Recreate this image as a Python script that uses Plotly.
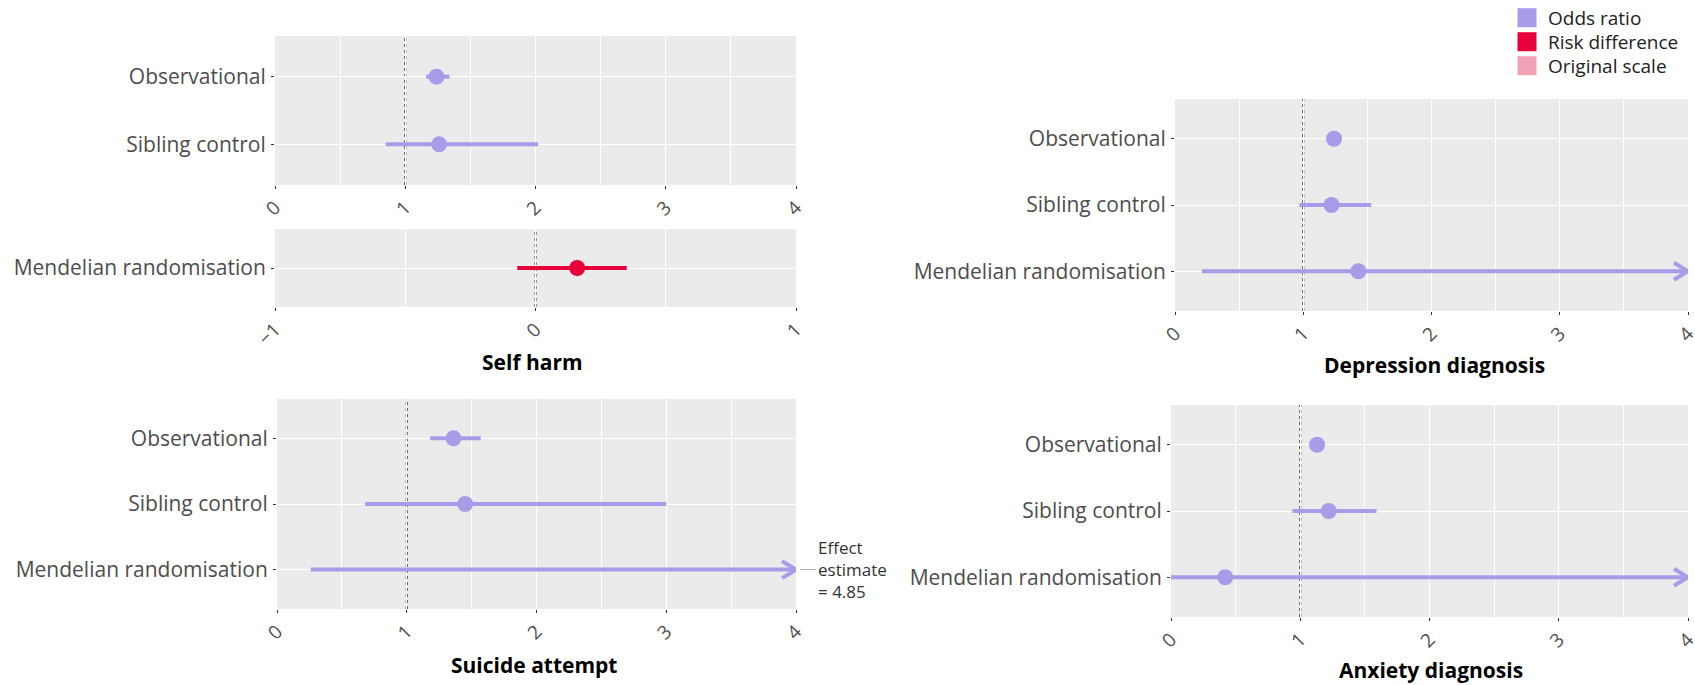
import plotly.graph_objects as go

# ---------------------------------------------------------------- data
methods = ["Observational", "Sibling control", "Mendelian randomisation"]
OFF_SCALE = float("inf")  # interval bound beyond the plotted range

# Self harm, odds ratios (observational + sibling control)
self_harm_or_methods = ["Observational", "Sibling control"]
self_harm_or_est = [1.24, 1.26]
self_harm_or_lo = [1.16, 0.85]
self_harm_or_hi = [1.34, 2.02]

# Self harm, risk difference (Mendelian randomisation)
self_harm_rd_methods = ["Mendelian randomisation"]
self_harm_rd_est = [0.16]
self_harm_rd_lo = [-0.07]
self_harm_rd_hi = [0.35]

# Suicide attempt, odds ratios
suicide_est = [1.36, 1.45, 4.85]
suicide_lo = [1.18, 0.68, 0.26]
suicide_hi = [1.57, 3.00, OFF_SCALE]

# Depression diagnosis, odds ratios
depression_est = [1.24, 1.22, 1.43]
depression_lo = [1.21, 0.97, 0.21]
depression_hi = [1.27, 1.53, OFF_SCALE]

# Anxiety diagnosis, odds ratios
anxiety_est = [1.13, 1.22, 0.42]
anxiety_lo = [1.10, 0.94, 0.00]
anxiety_hi = [1.16, 1.59, OFF_SCALE]

or_ticks = [0, 1, 2, 3, 4]
rd_ticks = [-1, 0, 1]

legend_labels = ["Odds ratio", "Risk difference", "Original scale"]

# ---------------------------------------------------------------- style
W, H = 1695, 685
C_OR = "#A89BE8"
C_RD = "#E8003A"
C_ORIG = "#F4A0B5"
legend_colors = [C_OR, C_RD, C_ORIG]
PANEL_BG = "#EBEBEB"
TEXT_GREY = "#4D4D4D"
FONT = "Open Sans"


def xd(left, right):
    return [left / W, right / W]


def yd(top, bottom):
    return [1 - bottom / H, 1 - top / H]


panels = [
    dict(key="", methods=self_harm_or_methods, est=self_harm_or_est,
         lo=self_harm_or_lo, hi=self_harm_or_hi, color=C_OR,
         xr=[0, 4], ticks=or_ticks, ref=1, xdom=xd(275, 796), ydom=yd(36, 185)),
    dict(key="2", methods=self_harm_rd_methods, est=self_harm_rd_est,
         lo=self_harm_rd_lo, hi=self_harm_rd_hi, color=C_RD,
         xr=[-1, 1], ticks=rd_ticks, ref=0, xdom=xd(275, 796), ydom=yd(229, 307)),
    dict(key="3", methods=methods, est=suicide_est, lo=suicide_lo, hi=suicide_hi,
         color=C_OR, xr=[0, 4], ticks=or_ticks, ref=1,
         xdom=xd(277, 796), ydom=yd(399, 609)),
    dict(key="4", methods=methods, est=depression_est, lo=depression_lo,
         hi=depression_hi, color=C_OR, xr=[0, 4], ticks=or_ticks, ref=1,
         xdom=xd(1175, 1688), ydom=yd(99, 311)),
    dict(key="5", methods=methods, est=anxiety_est, lo=anxiety_lo, hi=anxiety_hi,
         color=C_OR, xr=[0, 4], ticks=or_ticks, ref=1,
         xdom=xd(1171, 1688), ydom=yd(405, 617)),
]

fig = go.Figure()
layout_axes = {}
shapes = []

for p in panels:
    xa, ya = "x" + p["key"], "y" + p["key"]
    xmin, xmax = p["xr"]
    n = len(p["methods"])
    rows = list(range(n))
    span = xmax - xmin
    x_px = (p["xdom"][1] - p["xdom"][0]) * W
    y_px = (p["ydom"][1] - p["ydom"][0]) * H
    unit_px = y_px / (n + 0.2)  # pixels per category step

    # confidence interval segments, clipped to the axis range
    seg_x, seg_y = [], []
    arr_x, arr_y = [], []
    for r, lo, hi in zip(rows, p["lo"], p["hi"]):
        seg_x += [max(lo, xmin), min(hi, xmax), None]
        seg_y += [r, r, None]
        if hi > xmax:
            dx = 14 / x_px * span
            dy = 8.5 / unit_px
            arr_x += [xmax - dx, xmax, xmax - dx, None]
            arr_y += [r - dy, r, r + dy, None]
    fig.add_trace(go.Scatter(x=seg_x, y=seg_y, mode="lines", xaxis=xa, yaxis=ya,
                             line=dict(color=p["color"], width=4),
                             showlegend=False, hoverinfo="skip"))
    if arr_x:
        fig.add_trace(go.Scatter(x=arr_x, y=arr_y, mode="lines", xaxis=xa, yaxis=ya,
                                 line=dict(color=p["color"], width=4),
                                 cliponaxis=False, showlegend=False, hoverinfo="skip"))

    # point estimates that fall inside the plotted range
    px_, py_ = [], []
    for r, e in zip(rows, p["est"]):
        if xmin <= e <= xmax:
            px_.append(e)
            py_.append(r)
    fig.add_trace(go.Scatter(x=px_, y=py_, mode="markers", xaxis=xa, yaxis=ya,
                             marker=dict(color=p["color"], size=16),
                             showlegend=False))

    # null-effect reference line
    shapes.append(dict(type="line", xref=xa, yref=ya + " domain",
                       x0=p["ref"], x1=p["ref"], y0=0, y1=1,
                       line=dict(color="#444444", width=2, dash="dot"), layer="below"))

    name_x = "xaxis" + p["key"]
    name_y = "yaxis" + p["key"]
    layout_axes[name_x] = dict(
        domain=p["xdom"], anchor=ya, range=p["xr"], tickvals=p["ticks"],
        ticks="outside", ticklen=3, tickcolor="#333333", tickwidth=1,
        tickangle=-45, tickfont=dict(family=FONT, size=19, color=TEXT_GREY),
        ticklabeloverflow="allow",
        showgrid=True, gridcolor="white", gridwidth=1.2,
        minor=dict(dtick=0.5, tick0=0, showgrid=True, gridcolor="white", gridwidth=0.6),
        zeroline=False, showline=False, fixedrange=True,
    )
    layout_axes[name_y] = dict(
        domain=p["ydom"], anchor=xa, range=[n - 0.4, -0.6],
        tickvals=rows, ticktext=p["methods"],
        ticks="outside", ticklen=3, tickcolor="#333333", tickwidth=1,
        ticklabelstandoff=1,
        tickfont=dict(family=FONT, size=21, color=TEXT_GREY),
        showgrid=True, gridcolor="white", gridwidth=1.2,
        zeroline=False, showline=False, fixedrange=True,
    )

# outcome titles
annotations = []
for text, cx, cy in [("Self harm", 532, 362), ("Suicide attempt", 534, 665),
                     ("Depression diagnosis", 1434, 365), ("Anxiety diagnosis", 1431, 670)]:
    annotations.append(dict(text="<b>%s</b>" % text, x=cx / W, y=1 - cy / H,
                            xref="paper", yref="paper", showarrow=False,
                            xanchor="center", yanchor="middle",
                            font=dict(family=FONT, size=21, color="black")))

# off-scale estimate note for the Mendelian randomisation suicide attempt row
annotations.append(dict(
    text="Effect<br>estimate<br>= %.2f" % suicide_est[2],
    x=4, y=2, xref="x3", yref="y3", ax=20, ay=0, xanchor="left", align="left",
    showarrow=True, arrowhead=0, arrowwidth=1, arrowcolor="#AAAAAA", standoff=4,
    font=dict(family=FONT, size=17, color="#333333"),
))

# colour key (top right)
key_x, key_y0, key_step, key_box = 1527, 17.7, 24, 19
for i, (lab, col) in enumerate(zip(legend_labels, legend_colors)):
    cy = key_y0 + i * key_step
    shapes.append(dict(type="rect", xref="paper", yref="paper",
                       x0=(key_x - key_box / 2) / W, x1=(key_x + key_box / 2) / W,
                       y0=1 - (cy + key_box / 2) / H, y1=1 - (cy - key_box / 2) / H,
                       fillcolor=col, line=dict(width=0)))
    annotations.append(dict(text=lab, x=(key_x + 19) / W, y=1 - cy / H,
                            xref="paper", yref="paper", showarrow=False,
                            xanchor="left", yanchor="middle",
                            font=dict(family=FONT, size=19, color="#222222")))

fig.update_layout(
    width=W, height=H,
    margin=dict(l=0, r=0, t=0, b=0, autoexpand=False),
    paper_bgcolor="white", plot_bgcolor=PANEL_BG,
    shapes=shapes, annotations=annotations, showlegend=False,
    font=dict(family=FONT),
    **layout_axes,
)

fig.write_html("out.html")
